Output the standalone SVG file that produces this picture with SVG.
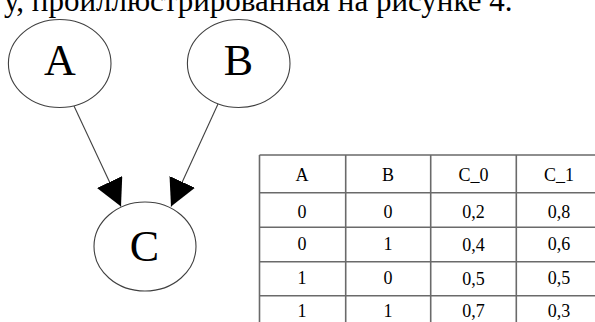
<svg xmlns="http://www.w3.org/2000/svg" width="595" height="322" viewBox="0 0 595 322">
<style>
.bg{fill:#ffffff}
.node ellipse{fill:#ffffff;stroke:#404040;stroke-width:1.1}
text{font-family:'Liberation Serif','Times New Roman','DejaVu Serif',serif}
.lbl{font-size:44px;fill:#000;text-anchor:middle}
.edge{stroke:#404040;stroke-width:1.1;fill:none}
.grid{stroke:#6a6a6a;stroke-width:1.6;fill:none}
.cell{font-size:18px;fill:#000;text-anchor:middle}
.top{font-size:31px;fill:#000}
</style>
<defs>
<marker id="arr" markerUnits="userSpaceOnUse" viewBox="0 -14 27 28" markerWidth="27" markerHeight="28" refX="27" refY="0" orient="auto">
<path d="M0,-14 L27,0 L0,14 Z" fill="#000"/>
</marker>
</defs>
<rect class="bg" x="0" y="0" width="595" height="322"/>
<text class="top" x="512.5" y="11" text-anchor="end" font-family="Liberation Serif, serif">у, проиллюстрированная на рисунке 4.</text>
<g id="connectors">
<line class="edge" x1="74" y1="106" x2="121" y2="206.5" marker-end="url(#arr)"/>
<line class="edge" x1="218" y1="104" x2="171" y2="206.5" marker-end="url(#arr)"/>
</g>
<g id="node-A" class="node">
<ellipse cx="59.7" cy="63.5" rx="51.3" ry="44"/>
<text class="lbl" x="60" y="75">A</text>
</g>
<g id="node-B" class="node">
<ellipse cx="238.7" cy="63.5" rx="51.3" ry="44"/>
<text class="lbl" x="238.5" y="75">B</text>
</g>
<g id="node-C" class="node">
<ellipse cx="145" cy="246.5" rx="51" ry="44.5"/>
<text class="lbl" x="144.5" y="261">C</text>
</g>
<g id="table">
<path class="grid" d="M259.5,155 H601 M259.5,192.7 H601 M259.5,227.3 H601 M259.5,261.7 H601 M259.5,295.7 H601 M259.5,155 V330 M345.7,155 V330 M430.7,155 V330 M516.3,155 V330"/>
<text class="cell" x="302" y="180.5">A</text>
<text class="cell" x="388" y="180.5">B</text>
<text class="cell" x="473.5" y="180.5">C_0</text>
<text class="cell" x="559" y="180.5">C_1</text>
<text class="cell" x="302" y="217.5">0</text>
<text class="cell" x="388" y="217.5">0</text>
<text class="cell" x="473.5" y="217.5">0,2</text>
<text class="cell" x="559" y="217.5">0,8</text>
<text class="cell" x="302" y="249.5">0</text>
<text class="cell" x="388" y="250">1</text>
<text class="cell" x="473.5" y="251">0,4</text>
<text class="cell" x="559" y="249.5">0,6</text>
<text class="cell" x="302" y="283.5">1</text>
<text class="cell" x="388" y="284">0</text>
<text class="cell" x="473.5" y="284.5">0,5</text>
<text class="cell" x="559" y="284">0,5</text>
<text class="cell" x="302" y="316.5">1</text>
<text class="cell" x="388" y="316.5">1</text>
<text class="cell" x="473.5" y="316.5">0,7</text>
<text class="cell" x="559" y="316.5">0,3</text>
</g>
</svg>
